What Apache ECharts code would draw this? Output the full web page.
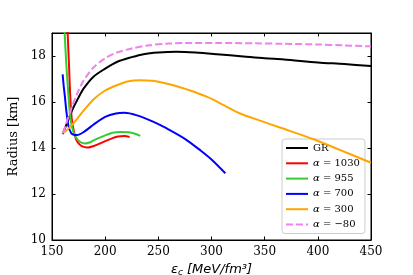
<!DOCTYPE html>
<html><head><meta charset="utf-8">
<script src="https://cdn.jsdelivr.net/npm/echarts@6/dist/echarts.min.js"></script>
<style>html,body{margin:0;padding:0;background:#fff}#c{width:413px;height:275px}</style>
</head><body><div id="c"></div>
<script>
const xTicks = [150, 200, 250, 300, 350, 400, 450];
const yTicks = [10, 12, 14, 16, 18];
const seriesNames = ['GR', '1030', '955', '700', '300', '−80'];

const grX = [160,163,166,170,175,180,189,200,211,225,236,250,267,285,305,330,350,368,400,425,450];
const grY = [14.6,14.95,15.3,15.75,16.2,16.6,17.1,17.45,17.74,17.95,18.08,18.15,18.18,18.15,18.08,17.98,17.9,17.85,17.72,17.65,17.56];

const a1030X = [162.5,164.7,166,167.2,168.5,170.3,172.5,175,178,183,190,200,207,212,218,223];
const a1030Y = [21.5,19,17.6,16.2,15.3,14.78,14.4,14.2,14.08,14.02,14.1,14.3,14.43,14.5,14.52,14.48];

const a955X = [160.5,161.8,163.5,165.6,167,168.8,171,173.5,177,181,186,190,200,207,214,222,228,233];
const a955Y = [20.5,19.1,17.6,16.2,15.4,14.92,14.6,14.4,14.25,14.2,14.25,14.35,14.55,14.66,14.7,14.68,14.62,14.53];

const a700X = [160,161,162.2,163.5,165.5,168,170.5,173.5,180,190,200,210,218,230,245,258,275,290,300,313];
const a700Y = [17.2,16.7,16.2,15.6,14.95,14.65,14.57,14.56,14.7,15.05,15.35,15.5,15.53,15.42,15.15,14.85,14.4,13.88,13.5,12.9];

const a300X = [159.5,162,165,170,175,180,190,200,211,222,232,245,264,280,296,310,327,345,365,396,420,450];
const a300Y = [14.65,14.7,14.82,15.07,15.35,15.64,16.15,16.5,16.73,16.9,16.95,16.92,16.73,16.5,16.22,15.9,15.5,15.2,14.88,14.38,13.93,13.36];

const am80X = [160.5,163,165,170,175,180,189,200,211,225,242,260,275,305,340,368,400,425,450];
const am80Y = [14.65,15.0,15.3,15.95,16.5,16.95,17.5,17.9,18.15,18.33,18.47,18.54,18.57,18.57,18.55,18.53,18.5,18.46,18.42];

const colors = ['#000000', '#ff0000', '#33cc33', '#0000ff', '#ffa500', '#ee82ee'];
const xs = [grX, a1030X, a955X, a700X, a300X, am80X];
const ys = [grY, a1030Y, a955Y, a700Y, a300Y, am80Y];

const zip = (a, b) => a.map((v, i) => [v, b[i]]);
const serif = 'DejaVu Serif';

const series = seriesNames.map((n, i) => ({
  name: n,
  type: 'line',
  xAxisIndex: 0, yAxisIndex: 0,
  data: zip(xs[i], ys[i]),
  symbol: 'none',
  smooth: 0.3,
  clip: true,
  color: colors[i],
  lineStyle: { width: 2, color: colors[i], type: i === 5 ? [7, 3] : 'solid' },
  z: 2 + i
}));
// empty helper series so the mirrored top/right axes (the frame) are laid out
series.push({ name: 'frame', type: 'line', xAxisIndex: 1, yAxisIndex: 1, data: [], symbol: 'none', silent: true });

const tick = { show: true, inside: true, length: 3.5, lineStyle: { color: '#000', width: 1 } };
const line = { show: true, onZero: false, lineStyle: { color: '#000', width: 1 } };

const chart = echarts.init(document.getElementById('c'), null, { renderer: 'canvas' });
chart.setOption({
  animation: false,
  backgroundColor: '#fff',
  grid: { left: 52, right: 42, top: 33, bottom: 35, containLabel: false, outerBoundsMode: 'none',
    show: true, borderColor: '#000', borderWidth: 1, backgroundColor: 'rgba(0,0,0,0)' },
  xAxis: [
    {
      type: 'value', min: 150, max: 450, interval: 50, position: 'bottom',
      axisLine: line, axisTick: tick, splitLine: { show: false },
      axisLabel: { show: true, color: '#000', fontFamily: serif, fontSize: 12, margin: 6,
        formatter: v => xTicks.includes(v) ? String(v) : '' },
      name: '{e|ε}{s|c}{u| [MeV/fm³]}',
      nameLocation: 'middle', nameGap: 19,
      nameTextStyle: {
        color: '#000',
        rich: {
          e: { fontFamily: 'DejaVu Sans', fontStyle: 'italic', fontSize: 13, color: '#000' },
          s: { fontFamily: 'DejaVu Sans', fontStyle: 'italic', fontSize: 9, color: '#000', padding: [7, 0, 0, 0] },
          u: { fontFamily: 'DejaVu Sans', fontStyle: 'italic', fontSize: 13, color: '#000' }
        }
      }
    },
    {
      type: 'value', min: 150, max: 450, interval: 50, position: 'top', show: true,
      axisLine: { show: true, onZero: false, lineStyle: { color: '#000', width: 1 } },
      axisTick: tick, splitLine: { show: false }, axisLabel: { show: false }
    }
  ],
  yAxis: [
    {
      type: 'value', min: 10, max: 19, interval: 2, position: 'left',
      axisLine: line, axisTick: tick, splitLine: { show: false },
      axisLabel: { show: true, color: '#000', fontFamily: serif, fontSize: 12, margin: 6,
        formatter: v => yTicks.includes(v) ? String(v) : '' },
      name: 'Radius [km]', nameLocation: 'middle', nameGap: 22, nameRotate: 90,
      nameTextStyle: { color: '#000', fontFamily: serif, fontSize: 13 }
    },
    {
      type: 'value', min: 10, max: 19, interval: 2, position: 'right', show: true,
      axisLine: { show: true, onZero: false, lineStyle: { color: '#000', width: 1 } },
      axisTick: tick, splitLine: { show: false }, axisLabel: { show: false }
    }
  ],
  legend: {
    orient: 'vertical',
    left: 282, top: 139,
    padding: [4, 5, 4, 3],
    itemWidth: 22, itemHeight: 10, itemGap: 5.3,
    backgroundColor: 'rgba(255,255,255,0.8)',
    borderColor: '#cccccc', borderWidth: 1, borderRadius: 3,
    itemStyle: { opacity: 0 },
    data: seriesNames,
    formatter: n => n === 'GR' ? '{t|GR}' : '{a|α}{t| = ' + n + '}',
    textStyle: {
      color: '#000', fontFamily: serif, fontSize: 10,
      rich: {
        t: { fontFamily: serif, fontSize: 10, color: '#000', lineHeight: 10 },
        a: { fontFamily: serif, fontStyle: 'italic', fontSize: 10, color: '#000', lineHeight: 10 }
      }
    }
  },
  series: series
});
</script></body></html>
